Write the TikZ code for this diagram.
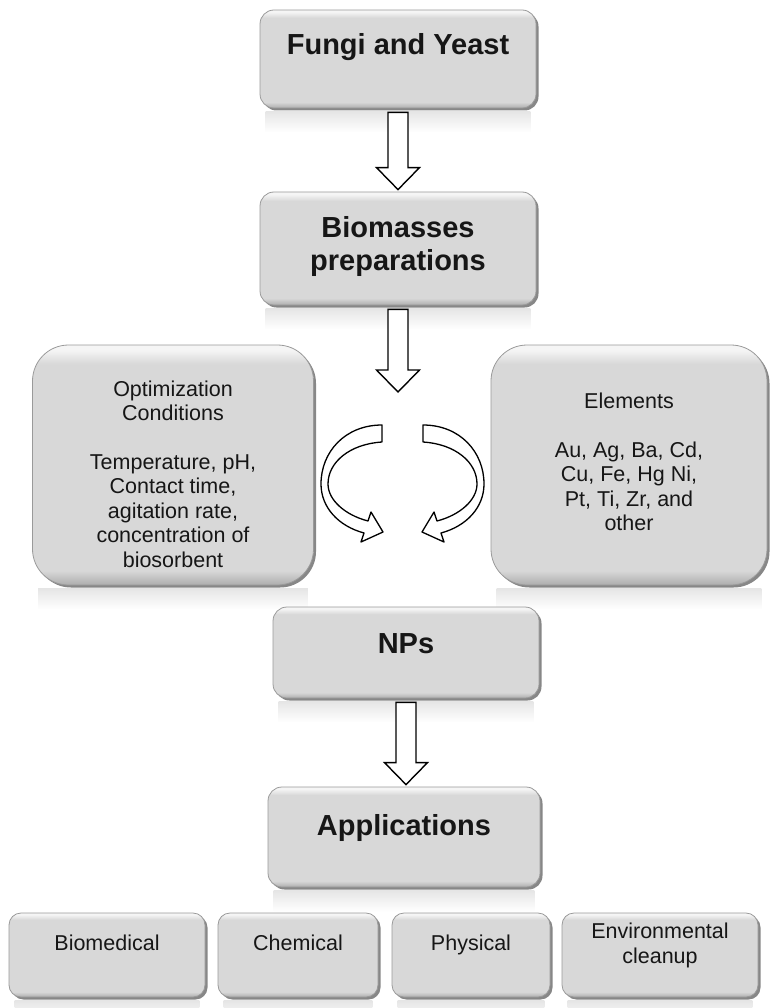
\documentclass[tikz,border=0pt]{standalone}
\usepackage{fontspec}
\setmainfont{Liberation Sans}
\usetikzlibrary{calc,shadows,backgrounds}
\definecolor{yuzGri}{HTML}{D8D8D8}
\definecolor{ustGri}{HTML}{F5F5F5}
\definecolor{altGri}{HTML}{ADADAD}
\definecolor{kenarGri}{HTML}{9A9A9A}
\definecolor{golgeGri}{HTML}{7A7A7A}
\definecolor{yaziSiyah}{HTML}{161616}
\pgfdeclareverticalshading{kutuDolgu}{100bp}{color(0bp)=(altGri); color(25bp)=(altGri);
  color(28bp)=(yuzGri); color(71bp)=(yuzGri); color(74bp)=(ustGri); color(100bp)=(ustGri)}

\begin{document}
\begin{tikzpicture}[x=1pt, y=-1pt, every node/.style={text=yaziSiyah},
  kutu/.style={shade, shading=kutuDolgu, draw=kenarGri, line width=0.8pt, rounded corners=14pt,
               drop shadow={shadow xshift=2.5pt, shadow yshift=-2.5pt, fill=golgeGri, opacity=.9},
               align=center, inner sep=0pt, font=\bfseries\fontsize{29}{33}\selectfont},
  tek/.style={text height=21pt, text depth=#1},
  yan/.style={rounded corners=36pt, minimum width=#1, minimum height=240pt,
              font=\fontsize{21.5}{24.5}\selectfont},
  alt/.style={rounded corners=12pt, minimum height=84pt,
              font=\fontsize{21.5}{24.5}\selectfont, text depth=24pt},
  blokOk/.style={draw=black, fill=white, line width=1.4pt, line join=miter},
  kivrikOk/.style={draw=black, fill=white, line width=1.3pt, line join=round},
  yansima/.style={top color=black!10, bottom color=white}]
\useasboundingbox (0,0) rectangle (770,1008);

\node[kutu, tek=30pt, minimum width=276pt, minimum height=98pt] (fungi) at (398,59) {Fungi and Yeast};
\node[kutu, minimum width=276pt, minimum height=113pt, text depth=10pt] (bio) at (398,248.5) {Biomasses\\preparations};
\coordinate (karis) at (398,394);
\node[kutu, yan=281pt, text height=204pt, text depth=0pt] (kosul) at (173,465)
  {Optimization\\Conditions\\[24pt]Temperature, pH,\\Contact time,\\agitation rate,\\concentration of\\biosorbent};
\node[kutu, yan=276pt, text depth=6pt] (element) at (629,465)
  {Elements\\[24pt]Au, Ag, Ba, Cd,\\Cu, Fe, Hg Ni,\\Pt, Ti, Zr, and\\other};
\node[kutu, tek=20pt, minimum width=266pt, minimum height=91pt] (np) at (406,652.5) {NPs};
\node[kutu, tek=24pt, minimum width=272pt, minimum height=100pt] (uygulama) at (404,837) {Applications};
\foreach \ad/\x/\w/\metin in {biyomed/107/196/Biomedical, kimya/298/160/Chemical,
    fizik/471/158/Physical, cevre/660/196/Environmental\\cleanup}
  \node[kutu, alt, minimum width=\w pt] (\ad) at (\x,955) {\metin};

% yansimalar
\begin{pgfonlayer}{background}
\foreach \k in {fungi,bio,kosul,element,np,uygulama,biyomed,kimya,fizik,cevre}
  \shade[yansima] ([xshift=6pt,yshift=-3pt]\k.south west) rectangle ([xshift=-6pt,yshift=-24pt]\k.south east);
\end{pgfonlayer}

\foreach \a/\b in {fungi.south/bio.north, bio.south/karis, np.south/uygulama.north}
  \draw[blokOk] let \p1=($(\a)+(0,4)$), \p2=($(\b)+(0,-2)$) in
    (\x1-10pt,\y1) -- (\x1+10pt,\y1) -- (\x1+10pt,\y2+22pt) -- (\x1+21.5pt,\y2+22pt)
    -- (\x1,\y2) -- (\x1-21.5pt,\y2+22pt) -- (\x1-10pt,\y2+22pt) -- cycle;

\foreach \s/\dx in {1/0,-1/805}
  \draw[kivrikOk, xshift=\dx pt, xscale=\s] (382,425) -- (382,442)
    .. controls (350,444) and (328,462) .. (328,484) .. controls (328,500) and (345,515) .. (368,521)
    -- (371,512) -- (383,532) -- (361,542) -- (364,533)
    .. controls (338,526) and (321,507) .. (321,484) .. controls (321,452) and (345,425) .. (382,425) -- cycle;
\end{tikzpicture}
\end{document}
